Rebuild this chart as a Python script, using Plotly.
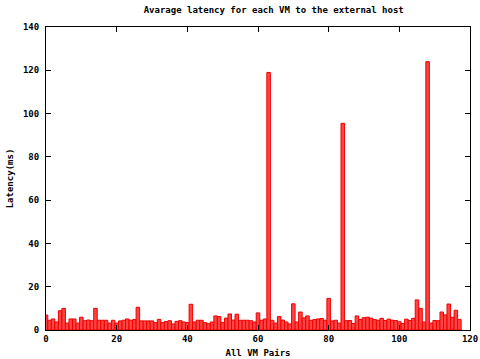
import plotly.graph_objects as go

vm_pairs = list(range(118))
latency_ms = [
    6.9, 4.5, 5.1, 3.7, 8.9, 10.0, 3.2, 5.1, 5.1, 3.2,
    5.9, 4.3, 4.6, 4.3, 10.0, 4.5, 4.5, 4.5, 3.2, 4.5,
    3.2, 4.2, 4.5, 5.1, 4.5, 4.8, 10.5, 4.2, 4.2, 4.2,
    4.2, 3.4, 4.9, 3.4, 3.9, 4.3, 2.8, 4.0, 4.3, 3.7,
    3.5, 11.9, 3.7, 4.5, 4.5, 3.4, 2.9, 3.7, 6.5, 6.2,
    3.4, 5.5, 7.4, 4.6, 7.3, 4.5, 4.5, 4.5, 4.3, 3.7,
    7.9, 4.5, 5.1, 119.0, 4.5, 3.2, 6.2, 4.6, 3.7, 2.8,
    12.1, 3.7, 8.3, 5.6, 6.5, 4.5, 4.8, 5.1, 5.3, 4.5,
    14.6, 4.2, 4.5, 3.2, 95.5, 4.3, 4.4, 3.0, 6.5, 4.9,
    5.7, 5.9, 5.5, 4.8, 4.5, 5.4, 4.4, 5.0, 4.5, 4.4,
    3.8, 3.0, 5.0, 4.4, 5.4, 13.9, 10.0, 3.7, 124.0, 3.2,
    4.4, 4.3, 8.3, 7.0, 12.0, 5.9, 9.1, 4.8,
]
x_ticks = [0, 20, 40, 60, 80, 100, 120]
y_ticks = [0, 20, 40, 60, 80, 100, 120, 140]

title_text = "Avarage latency for each VM to the external host"
x_title = "All VM Pairs"
y_title = "Latency(ms)"

FONT = "DejaVu Sans Mono"

fig = go.Figure(
    go.Bar(
        x=vm_pairs,
        y=latency_ms,
        width=1,
        marker=dict(color="#ff4444", line=dict(color="#ee0000", width=1)),
    )
)

fig.update_layout(
    width=480,
    height=359,
    margin=dict(l=46, r=10, t=27, b=29, autoexpand=False),
    paper_bgcolor="white",
    plot_bgcolor="white",
    bargap=0,
    showlegend=False,
    font=dict(family=FONT, size=9, color="black"),
    title=dict(
        text="<b>" + title_text + "</b>",
        x=0.537,
        xanchor="center",
        xref="paper",
        yref="container",
        y=1 - 10 / 359,
        yanchor="middle",
        automargin=False,
        font=dict(family=FONT, size=9, color="black"),
    ),
)

fig.update_xaxes(
    range=[0, 120],
    tickvals=x_ticks,
    ticktext=["<b>%d</b>" % v for v in x_ticks],
    ticks="inside",
    ticklen=5,
    tickcolor="black",
    showline=True,
    linecolor="black",
    linewidth=1,
    mirror="ticks",
    showgrid=False,
    zeroline=False,
    automargin=False,
    ticklabeloverflow="allow",
    title=dict(text="<b>" + x_title + "</b>", standoff=6,
               font=dict(family=FONT, size=9)),
)

fig.update_yaxes(
    range=[0, 140],
    tickvals=y_ticks,
    ticktext=["<b>%d</b>" % v for v in y_ticks],
    ticks="inside",
    ticklen=5,
    tickcolor="black",
    showline=True,
    linecolor="black",
    linewidth=1,
    mirror="ticks",
    showgrid=False,
    zeroline=False,
    automargin=False,
    ticklabeloverflow="allow",
    ticklabelstandoff=4,
    title=dict(text="<b>" + y_title + "</b>", standoff=7,
               font=dict(family=FONT, size=9)),
)

fig.write_html(
    "out.html",
    config={"displayModeBar": False, "staticPlot": True},
    post_script="document.body.style.margin='0';document.body.style.overflow='hidden';",
)
